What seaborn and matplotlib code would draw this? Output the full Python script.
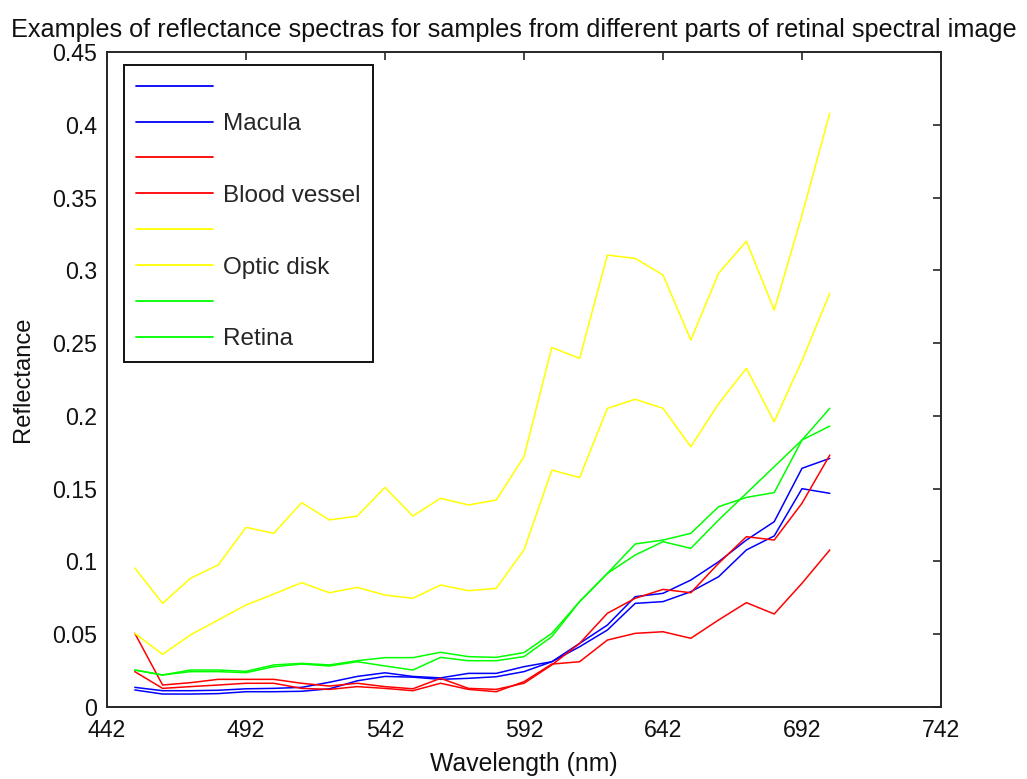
import numpy as np
import pandas as pd
import matplotlib
matplotlib.use("Agg")
import matplotlib.pyplot as plt
import seaborn as sns

# Wavelength samples (nm)
wavelength = [452, 462, 472, 482, 492, 502, 512, 522, 532, 542, 552, 562, 572,
              582, 592, 602, 612, 622, 632, 642, 652, 662, 672, 682, 692, 702]

# Reflectance spectra, two samples per region
macula_1 = [0.0135, 0.0112, 0.0112, 0.0115, 0.0125, 0.0128, 0.0135, 0.0170, 0.0210,
            0.0235, 0.0210, 0.0200, 0.0231, 0.0231, 0.0277, 0.0311, 0.0437, 0.0563,
            0.0758, 0.0781, 0.0872, 0.0998, 0.1147, 0.1273, 0.1640, 0.1708]
macula_2 = [0.0117, 0.0089, 0.0089, 0.0092, 0.0105, 0.0105, 0.0108, 0.0125, 0.0180,
            0.0210, 0.0205, 0.0190, 0.0197, 0.0208, 0.0243, 0.0311, 0.0414, 0.0529,
            0.0712, 0.0724, 0.0792, 0.0895, 0.1079, 0.1175, 0.1500, 0.1468]
vessel_1 = [0.0506, 0.0151, 0.0167, 0.0190, 0.0190, 0.0190, 0.0163, 0.0144, 0.0163,
            0.0140, 0.0125, 0.0197, 0.0128, 0.0121, 0.0163, 0.0289, 0.0437, 0.0644,
            0.0747, 0.0808, 0.0785, 0.0987, 0.1170, 0.1147, 0.1400, 0.1731]
vessel_2 = [0.0243, 0.0128, 0.0140, 0.0151, 0.0163, 0.0163, 0.0128, 0.0121, 0.0140,
            0.0128, 0.0112, 0.0163, 0.0121, 0.0105, 0.0174, 0.0295, 0.0311, 0.0460,
            0.0506, 0.0517, 0.0472, 0.0598, 0.0717, 0.0639, 0.0850, 0.1079]
optic_1 = [0.0955, 0.0712, 0.0884, 0.0976, 0.1234, 0.1193, 0.1404, 0.1285, 0.1312,
           0.1509, 0.1312, 0.1434, 0.1388, 0.1422, 0.1720, 0.2470, 0.2395, 0.3105,
           0.3082, 0.2968, 0.2521, 0.2980, 0.3200, 0.2727, 0.3380, 0.4080]
optic_2 = [0.0506, 0.0362, 0.0495, 0.0598, 0.0701, 0.0776, 0.0854, 0.0785, 0.0822,
           0.0769, 0.0747, 0.0838, 0.0799, 0.0815, 0.1079, 0.1628, 0.1576, 0.2052,
           0.2114, 0.2052, 0.1788, 0.2084, 0.2327, 0.1960, 0.2380, 0.2842]
retina_1 = [0.0254, 0.0220, 0.0254, 0.0254, 0.0245, 0.0289, 0.0300, 0.0289, 0.0318,
            0.0339, 0.0339, 0.0376, 0.0346, 0.0341, 0.0374, 0.0506, 0.0724, 0.0918,
            0.1120, 0.1147, 0.1193, 0.1376, 0.1440, 0.1473, 0.1834, 0.1930]
retina_2 = [0.0254, 0.0220, 0.0243, 0.0243, 0.0236, 0.0277, 0.0295, 0.0282, 0.0311,
            0.0282, 0.0254, 0.0341, 0.0318, 0.0318, 0.0346, 0.0483, 0.0724, 0.0918,
            0.1044, 0.1136, 0.1090, 0.1285, 0.1468, 0.1651, 0.1834, 0.2052]

series_names = ["", "Macula", "", "Blood vessel", "", "Optic disk", "", "Retina"]
series_values = [macula_1, macula_2, vessel_1, vessel_2,
                 optic_1, optic_2, retina_1, retina_2]
series_colors = ["#0000ff", "#0000ff", "#ff0000", "#ff0000",
                 "#ffff00", "#ffff00", "#00ff00", "#00ff00"]

x_ticks = [442, 492, 542, 592, 642, 692, 742]
y_ticks = [0, 0.05, 0.1, 0.15, 0.2, 0.25, 0.3, 0.35, 0.4, 0.45]
y_tick_labels = ["0", "0.05", "0.1", "0.15", "0.2", "0.25", "0.3", "0.35", "0.4", "0.45"]

sns.set_theme(style="white")
plt.rcParams["font.family"] = ["Liberation Sans", "DejaVu Sans"]

fig = plt.figure(figsize=(10.27, 7.79), dpi=100)
ax = fig.add_axes([107 / 1027, 1 - 707 / 779, (941 - 107) / 1027, (707 - 52) / 779])

handles = []
for vals, col in zip(series_values, series_colors):
    df = pd.DataFrame({"wavelength": wavelength, "reflectance": vals})
    sns.lineplot(data=df, x="wavelength", y="reflectance", color=col,
                 linewidth=1.1, ax=ax, legend=False)
    handles.append(ax.lines[-1])

ax.set_xlim(442, 742)
ax.set_ylim(0, 0.45)
ax.set_xticks(x_ticks)
ax.set_xticklabels([str(t) for t in x_ticks])
ax.set_yticks(y_ticks)
ax.set_yticklabels(y_tick_labels)

ax.tick_params(direction="in", top=True, right=True, length=6, width=1.2,
               color="#262626", labelsize=16.7, labelcolor="#111111")
ax.tick_params(axis="x", pad=8.5)
ax.tick_params(axis="y", pad=7)
for sp in ax.spines.values():
    sp.set_color("#262626")
    sp.set_linewidth(1.4)
    sp.set_visible(True)

ax.set_xlabel("Wavelength (nm)", fontsize=17.8, color="#111111", labelpad=7)
ax.set_ylabel("Reflectance", fontsize=17.1, color="#111111", labelpad=13)
ax.set_title("Examples of reflectance spectras for samples from different parts of retinal spectral image",
             fontsize=18.2, color="#111111", pad=11, x=0.4874)

leg = ax.legend(handles, series_names, loc="upper left",
                bbox_to_anchor=(124 / 1027, 1 - 65 / 779), bbox_transform=fig.transFigure,
                fontsize=17.5, frameon=True, fancybox=False, edgecolor="#111111",
                framealpha=1, handlelength=3.15, handletextpad=0.42,
                labelspacing=0.57, borderpad=0.5, borderaxespad=0)
leg.get_frame().set_linewidth(1.4)
for h in leg.legend_handles:
    h.set_linewidth(1.3)

fig.savefig("out.png", dpi=100, facecolor="white")
